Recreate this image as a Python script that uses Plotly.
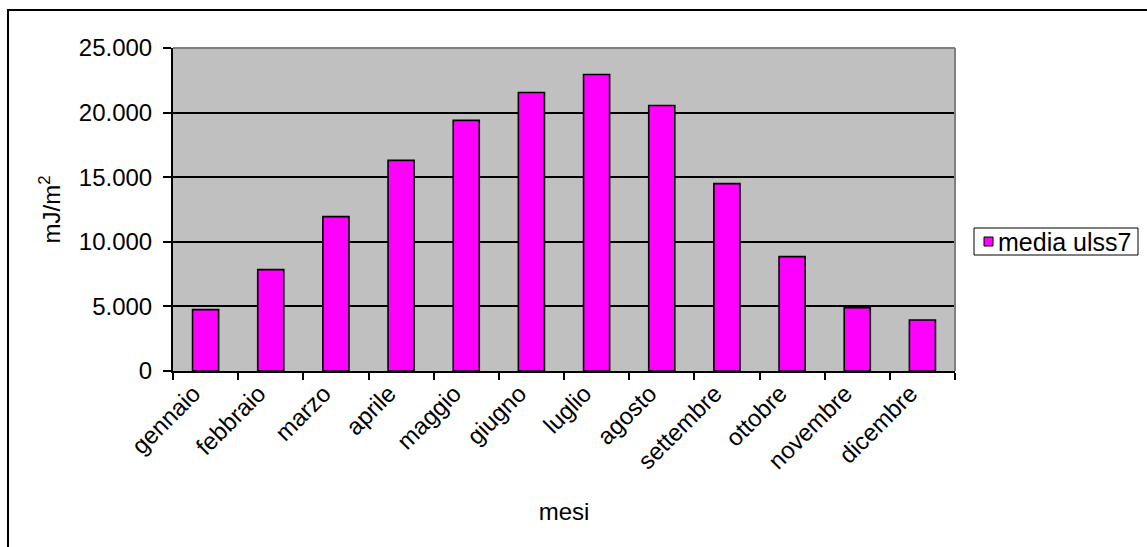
import plotly.graph_objects as go

# Monthly mean values (mJ/m²) for "media ulss7"
mesi = ["gennaio", "febbraio", "marzo", "aprile", "maggio", "giugno",
        "luglio", "agosto", "settembre", "ottobre", "novembre", "dicembre"]
media_ulss7 = [4750, 7850, 11950, 16300, 19400, 21550,
               22950, 20550, 14500, 8850, 4900, 3950]
y_ticks = [0, 5000, 10000, 15000, 20000, 25000]

W, H = 1147, 547
L, R, T, B = 173, 955, 48, 371  # plot-area pixel edges
FONT = "Liberation Sans, Arial, sans-serif"
FS = 24


def px(x):
    return (x - L) / (R - L)


def py(y):
    return (B - y) / (B - T)


fig = go.Figure()
fig.add_trace(go.Bar(
    x=mesi, y=media_ulss7, name="media ulss7",
    marker=dict(color="#FF00FF", line=dict(color="#000000", width=1.6)),
    showlegend=False,
))

shapes = [
    # outer chart frame
    dict(type="rect", xref="paper", yref="paper",
         x0=px(8), x1=px(W + 5), y0=py(H + 5), y1=py(10),
         line=dict(color="#000000", width=2), layer="below"),
    # top and right edges of the plot area
    dict(type="line", xref="paper", yref="paper", x0=0, x1=1, y0=1, y1=1,
         line=dict(color="#808080", width=2)),
    dict(type="line", xref="paper", yref="paper", x0=1, x1=1, y0=0, y1=1,
         line=dict(color="#808080", width=2)),
    # legend box
    dict(type="rect", xref="paper", yref="paper",
         x0=px(974), x1=px(1138), y0=py(255), y1=py(228),
         line=dict(color="#000000", width=1), fillcolor="#FFFFFF"),
    # legend swatch
    dict(type="rect", xref="paper", yref="paper",
         x0=px(984), x1=px(993), y0=py(246), y1=py(237),
         line=dict(color="#000000", width=1), fillcolor="#FF00FF"),
]

annotations = [
    dict(text="media ulss7", xref="paper", yref="paper",
         x=px(996), y=py(241.5), xanchor="left", yanchor="middle",
         showarrow=False, font=dict(family=FONT, size=25, color="#000000")),
]

fig.update_layout(
    width=W, height=H,
    margin=dict(l=L, r=W - R, t=T, b=H - B, pad=0),
    paper_bgcolor="#FFFFFF", plot_bgcolor="#C0C0C0",
    separators=",.",
    bargap=0.6,
    font=dict(family=FONT, size=FS, color="#000000"),
    shapes=shapes, annotations=annotations,
    xaxis=dict(
        type="category", tickson="boundaries",
        ticks="outside", ticklen=7, tickwidth=1.5, tickcolor="#000000",
        tickangle=-45, showgrid=False,
        ticklabelshift=-12, ticklabelstandoff=-3,
        showline=True, linecolor="#000000", linewidth=2,
        title=dict(text="mesi", standoff=30, font=dict(size=FS)),
        tickfont=dict(size=FS),
    ),
    yaxis=dict(
        range=[0, 25000], tickvals=y_ticks, tickformat=",d",
        ticks="outside", ticklen=8, tickwidth=1.5, tickcolor="#000000",
        ticklabelstandoff=6,
        showgrid=True, gridcolor="#000000", gridwidth=1.5,
        zeroline=False,
        showline=True, linecolor="#000000", linewidth=2,
        title=dict(text="mJ/m<sup>2</sup>", standoff=11, font=dict(size=FS)),
        tickfont=dict(size=FS),
    ),
)

fig.write_html("out.html")
